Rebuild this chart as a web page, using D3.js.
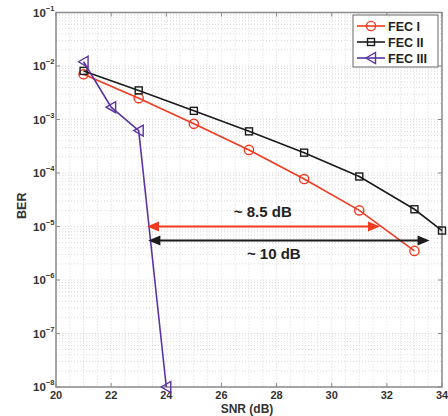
<!DOCTYPE html>
<html>
<head>
<meta charset="utf-8">
<script src="https://cdn.jsdelivr.net/npm/d3@7"></script>
<style>
  html, body { margin: 0; padding: 0; background: #fff; }
  svg { display: block; font-family: Arial, "Liberation Sans", sans-serif; font-weight: bold; }
</style>
</head>
<body>
<svg id="chart" width="448" height="416"></svg>
<script>
// BER vs SNR for the three FEC schemes
const snrFec1 = [21, 23, 25, 27, 29, 31, 33];
const berFec1 = [7e-3, 2.5e-3, 8.3e-4, 2.7e-4, 7.7e-5, 2e-5, 3.5e-6];

const snrFec2 = [21, 23, 25, 27, 29, 31, 33, 34];
const berFec2 = [8.1e-3, 3.5e-3, 1.45e-3, 6e-4, 2.4e-4, 8.6e-5, 2.1e-5, 8.4e-6];

const snrFec3 = [21, 22, 23, 24];
const berFec3 = [1.2e-2, 1.7e-3, 6.2e-4, 1e-8];

const xTicks = [20, 22, 24, 26, 28, 30, 32, 34];
const yExponents = [-1, -2, -3, -4, -5, -6, -7, -8];

const seriesNames = ["FEC I", "FEC II", "FEC III"];

// coding-gain arrows: [from SNR, to SNR, BER level, label, label SNR]
const gainArrows = [
  [23.3, 31.75, 1e-5, "~ 8.5 dB", 27.5],
  [23.35, 33.55, 5.5e-6, "~ 10 dB", 27.9]
];

const svg = d3.select("#chart");
const pLeft = 56, pRight = 442, pTop = 12.5, pBottom = 387;

const x = d3.scaleLinear().domain([20, 34]).range([pLeft, pRight]);
const y = d3.scaleLog().domain([1e-8, 1e-1]).range([pBottom, pTop]);

const red = "#f23a20", black = "#1b1b1b", purple = "#5b33a3";
const gridColor = "#d0d0d0";

const defs = svg.append("defs");
defs.append("clipPath").attr("id", "plot")
  .append("rect").attr("x", pLeft).attr("y", pTop - 8)
  .attr("width", pRight - pLeft + 10).attr("height", pBottom - pTop + 16);

// minor + major grid
const grid = svg.append("g").attr("stroke", gridColor).attr("stroke-width", 0.8)
  .attr("stroke-dasharray", "1,2");
const xMinor = d3.range(20, 34.001, 0.5);
grid.selectAll(".vx").data(xMinor).enter().append("line")
  .attr("x1", d => x(d)).attr("x2", d => x(d))
  .attr("y1", pTop).attr("y2", pBottom);
const yMinor = [];
yExponents.forEach(e => {
  if (e === -1) return;
  for (let k = 1; k <= 9; k++) yMinor.push(k * Math.pow(10, e));
});
grid.selectAll(".hy").data(yMinor).enter().append("line")
  .attr("x1", pLeft).attr("x2", pRight)
  .attr("y1", d => y(d)).attr("y2", d => y(d));

// plot box
svg.append("rect")
  .attr("x", pLeft).attr("y", pTop)
  .attr("width", pRight - pLeft).attr("height", pBottom - pTop)
  .attr("fill", "none").attr("stroke", "#8a8a8a").attr("stroke-width", 1.5);

// tick marks on all four sides
const ticks = svg.append("g").attr("stroke", "#8a8a8a").attr("stroke-width", 1);
xTicks.forEach(t => {
  ticks.append("line").attr("x1", x(t)).attr("x2", x(t)).attr("y1", pBottom).attr("y2", pBottom - 4);
  ticks.append("line").attr("x1", x(t)).attr("x2", x(t)).attr("y1", pTop).attr("y2", pTop + 4);
});
yExponents.forEach(e => {
  const v = Math.pow(10, e);
  ticks.append("line").attr("x1", pLeft).attr("x2", pLeft + 4).attr("y1", y(v)).attr("y2", y(v));
  ticks.append("line").attr("x1", pRight).attr("x2", pRight - 4).attr("y1", y(v)).attr("y2", y(v));
});

// x tick labels
svg.append("g").selectAll("text").data(xTicks).enter().append("text")
  .attr("x", d => x(d)).attr("y", pBottom + 12)
  .attr("text-anchor", "middle").attr("font-size", 11).attr("fill", "#333")
  .text(d => d);

// y tick labels as 10^e
const yl = svg.append("g").selectAll("text").data(yExponents).enter().append("text")
  .attr("x", 33).attr("y", d => y(Math.pow(10, d)) + 4)
  .attr("font-size", 11.5).attr("fill", "#333");
yl.append("tspan").text("10");
yl.append("tspan").attr("dy", -6).attr("font-size", 7.5).text(d => "\u2212" + (-d));

// axis titles
svg.append("text").attr("x", (pLeft + pRight) / 2 - 2).attr("y", 412.5)
  .attr("text-anchor", "middle").attr("font-size", 12).attr("fill", "#333")
  .text("SNR (dB)");
svg.append("text")
  .attr("transform", `translate(26,${(pTop + pBottom) / 2 + 6}) rotate(-90)`)
  .attr("text-anchor", "middle").attr("font-size", 12.5).attr("fill", "#333")
  .text("BER");

// series
const series = [
  { name: seriesNames[0], xs: snrFec1, ys: berFec1, color: red, marker: "circle" },
  { name: seriesNames[1], xs: snrFec2, ys: berFec2, color: black, marker: "square" },
  { name: seriesNames[2], xs: snrFec3, ys: berFec3, color: purple, marker: "tri" }
];

const line = d3.line().x(d => x(d[0])).y(d => y(d[1]));
const plot = svg.append("g").attr("clip-path", "url(#plot)");

function drawMarker(g, kind, color) {
  if (kind === "circle") {
    g.append("circle").attr("r", 4.6).attr("fill", "none")
      .attr("stroke", color).attr("stroke-width", 1.4);
  } else if (kind === "square") {
    g.append("rect").attr("x", -3.5).attr("y", -3.5).attr("width", 7).attr("height", 7)
      .attr("fill", "none").attr("stroke", color).attr("stroke-width", 1.4);
  } else {
    g.append("path").attr("d", "M-5,0L4.5,-5.5L4.5,5.5Z").attr("fill", "none")
      .attr("stroke", color).attr("stroke-width", 1.4);
  }
}

// arrows first so the curves sit on top
gainArrows.forEach((a, i) => {
  const color = i === 0 ? red : black;
  const g = svg.append("g");
  const x1 = x(a[0]), x2 = x(a[1]), yy = y(a[2]);
  g.append("line").attr("x1", x1 + 8).attr("x2", x2 - 8).attr("y1", yy).attr("y2", yy)
    .attr("stroke", color).attr("stroke-width", 2);
  g.append("path").attr("d", `M${x1},${yy}L${x1 + 12},${yy - 5}L${x1 + 12},${yy + 5}Z`).attr("fill", color);
  g.append("path").attr("d", `M${x2},${yy}L${x2 - 12},${yy - 5}L${x2 - 12},${yy + 5}Z`).attr("fill", color);
  g.append("text").attr("x", x(a[4])).attr("y", i === 0 ? yy - 10 : yy + 19)
    .attr("text-anchor", "middle").attr("font-size", 15).attr("fill", "#222")
    .text(a[3]);
});

series.forEach(s => {
  const pts = s.xs.map((v, i) => [v, s.ys[i]]);
  plot.append("path").datum(pts).attr("d", line)
    .attr("fill", "none").attr("stroke", s.color).attr("stroke-width", 1.6);
  plot.selectAll(null).data(pts).enter().append("g")
    .attr("transform", d => `translate(${x(d[0])},${y(d[1])})`)
    .each(function () { drawMarker(d3.select(this), s.marker, s.color); });
});

// legend
const lg = svg.append("g").attr("transform", "translate(353,15)");
lg.append("rect").attr("width", 85).attr("height", 52)
  .attr("fill", "#fff").attr("stroke", "#666").attr("stroke-width", 1);
series.forEach((s, i) => {
  const row = lg.append("g").attr("transform", `translate(0,${11 + i * 16})`);
  row.append("line").attr("x1", 4).attr("x2", 32).attr("stroke", s.color).attr("stroke-width", 1.6);
  drawMarker(row.append("g").attr("transform", "translate(18,0)"), s.marker, s.color);
  row.append("text").attr("x", 35).attr("y", 5).attr("font-size", 12.5).attr("fill", "#222")
    .text(s.name);
});
</script>
</body>
</html>
